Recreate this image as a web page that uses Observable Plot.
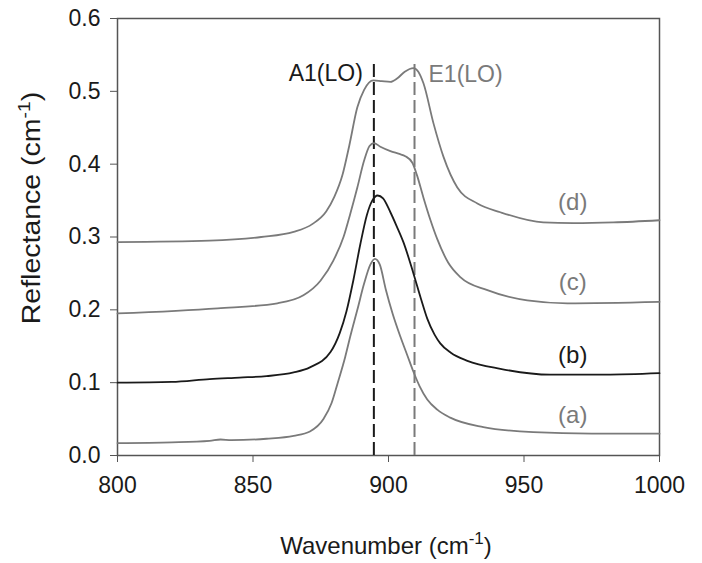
<!DOCTYPE html>
<html>
<head>
<meta charset="utf-8">
<script src="https://cdn.jsdelivr.net/npm/d3@7"></script>
<script src="https://cdn.jsdelivr.net/npm/@observablehq/plot@0.6"></script>
<style>
  body { margin: 0; background: #fff; }
  #chart { width: 702px; height: 563px; }
</style>
</head>
<body>
<div id="chart"></div>
<script>
// Wavenumber (cm-1) and reflectance values
const wnA  = [800, 820, 834, 838, 842, 855, 865, 871, 876, 879, 881.2, 884, 886, 888.5, 891, 893.3, 895, 896.8, 899, 901.5, 904.4, 907, 909.2, 911.5, 914.3, 918, 922.8, 935, 953.4, 975, 1000];
const valA = [0.017, 0.018, 0.020, 0.022, 0.021, 0.023, 0.027, 0.033, 0.050, 0.072, 0.099, 0.135, 0.165, 0.200, 0.236, 0.262, 0.270, 0.262, 0.228, 0.195, 0.163, 0.137, 0.115, 0.095, 0.077, 0.063, 0.052, 0.039, 0.032, 0.030, 0.030];

const wnB  = [800, 820, 834, 845, 855, 865, 871, 878.6, 882, 884.5, 887, 889.6, 892, 894, 896, 898, 900.7, 903, 905.5, 909.2, 912, 914.3, 917, 919.1, 923, 929.1, 941.3, 959.7, 980, 1000];
const valB = [0.100, 0.101, 0.105, 0.107, 0.109, 0.114, 0.121, 0.142, 0.168, 0.198, 0.240, 0.290, 0.330, 0.350, 0.357, 0.353, 0.334, 0.315, 0.293, 0.250, 0.215, 0.188, 0.166, 0.154, 0.141, 0.130, 0.119, 0.111, 0.111, 0.113];

const wnC  = [800, 837, 859, 868.6, 874.9, 879.7, 883.4, 885.9, 888.5, 891, 893, 894.6, 897, 900.7, 904, 906.2, 908.8, 910.5, 912.9, 915.5, 918, 922, 926.5, 936.5, 951.2, 966, 1000];
const valC = [0.195, 0.202, 0.209, 0.220, 0.240, 0.268, 0.300, 0.332, 0.368, 0.405, 0.425, 0.429, 0.424, 0.418, 0.414, 0.411, 0.402, 0.385, 0.354, 0.323, 0.297, 0.265, 0.245, 0.227, 0.213, 0.209, 0.211];

const wnD  = [800, 834, 853, 865, 872, 877, 880, 883, 885.5, 888.5, 891, 894.4, 897.5, 900.7, 903.3, 906, 909.2, 911, 912.9, 916.6, 920.3, 925.4, 932.8, 941.3, 957.1, 968.2, 983, 1000];
const valD = [0.293, 0.295, 0.300, 0.307, 0.318, 0.335, 0.355, 0.385, 0.425, 0.478, 0.502, 0.515, 0.514, 0.513, 0.518, 0.527, 0.532, 0.527, 0.511, 0.456, 0.410, 0.368, 0.346, 0.334, 0.320, 0.319, 0.320, 0.323];

const seriesNames  = ["(a)", "(b)", "(c)", "(d)"];
const seriesColors = ["#7a7a7a", "#1a1a1a", "#7a7a7a", "#7a7a7a"];
const labelWn      = [968, 968, 968, 968];
const labelVal     = [0.055, 0.137, 0.238, 0.347];

const peakNames  = ["A1(LO)", "E1(LO)"];
const peakWn     = [894.6, 909.6];
const peakTop    = 0.543;
const peakColors = ["#1a1a1a", "#7a7a7a"];

const xTicks = [800, 850, 900, 950, 1000];
const yTicks = [0.0, 0.1, 0.2, 0.3, 0.4, 0.5, 0.6];

const BLACK = "#1a1a1a";

const all = [[wnA, valA], [wnB, valB], [wnC, valC], [wnD, valD]];
const lines = all.flatMap(([w, v], i) => w.map((x, j) => ({series: seriesNames[i], wn: x, r: v[j]})));
const labels = seriesNames.map((s, i) => ({s, wn: labelWn[i], r: labelVal[i], c: seriesColors[i]}));
const peaks = peakNames.map((n, i) => ({n, wn: peakWn[i], c: peakColors[i]}));

const fontFam = "'Liberation Sans', Arial, Helvetica, sans-serif";

const chart = Plot.plot({
  width: 702,
  height: 563,
  marginLeft: 117,
  marginRight: 43,
  marginTop: 18,
  marginBottom: 108,
  style: {fontFamily: fontFam, fontSize: "23px", color: BLACK, background: "#fff"},
  x: {domain: [800, 1000]},
  y: {domain: [0, 0.6]},
  color: {domain: seriesNames, range: seriesColors},
  marks: [
    Plot.frame({stroke: "#555", strokeWidth: 1.5}),
    Plot.ruleX(peaks, {x: "wn", y1: 0, y2: peakTop, stroke: "c", strokeWidth: 2, strokeDasharray: "13,5"}),
    Plot.line(lines, {x: "wn", y: "r", z: "series", stroke: "series", strokeWidth: 1.8, curve: "monotone-x"}),
    Plot.text(labels, {x: "wn", y: "r", text: "s", fill: "c", fontSize: 24}),
    Plot.text(peaks.slice(0, 1), {x: "wn", y: peakTop, text: "n", fill: "c", fontSize: 23, textAnchor: "end", dx: -11, dy: 14}),
    Plot.text(peaks.slice(1), {x: "wn", y: peakTop, text: "n", fill: "c", fontSize: 23, textAnchor: "start", dx: 14, dy: 15}),
    Plot.axisX({ticks: xTicks, tickFormat: d3.format("d"), tickSize: 7, tickPadding: 14, label: null, stroke: "#555", fontSize: 23}),
    Plot.axisY({ticks: yTicks, tickFormat: d3.format(".1f"), tickSize: 7, tickPadding: 10, label: null, stroke: "#555", fontSize: 23})
  ]
});

document.getElementById("chart").appendChild(chart);

const svg = d3.select(chart);
// x axis title
const xt = svg.append("text")
  .attr("x", 386).attr("y", 554)
  .attr("text-anchor", "middle")
  .attr("font-family", fontFam).attr("font-size", 24).attr("fill", BLACK);
xt.append("tspan").text("Wavenumber (cm");
xt.append("tspan").attr("dy", -10).attr("font-size", 17).text("-1");
xt.append("tspan").attr("dy", 10).text(")");

// y axis title
const yt = svg.append("text")
  .attr("transform", "translate(40,208) rotate(-90) scale(1.14,1)")
  .attr("text-anchor", "middle")
  .attr("font-family", fontFam).attr("font-size", 25).attr("fill", BLACK);
yt.append("tspan").text("Reflectance (cm");
yt.append("tspan").attr("dy", -10).attr("font-size", 17).text("-1");
yt.append("tspan").attr("dy", 10).text(")");
</script>
</body>
</html>
